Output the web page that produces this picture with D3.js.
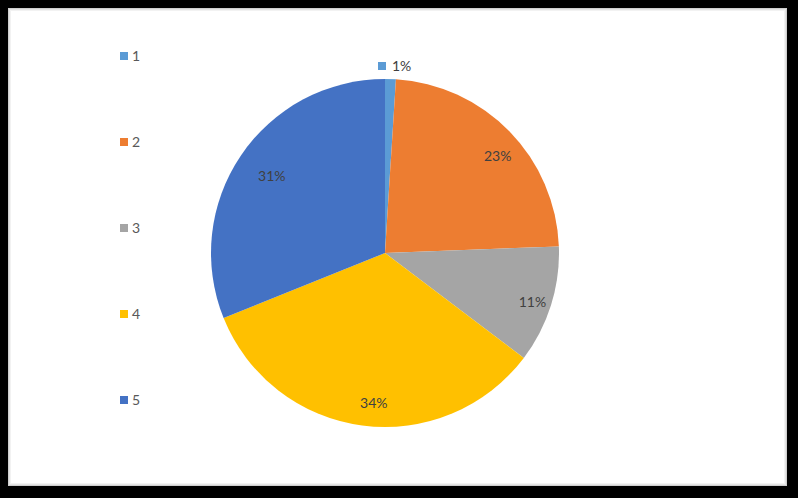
<!DOCTYPE html>
<html>
<head>
<meta charset="utf-8">
<script src="https://cdn.jsdelivr.net/npm/d3@7"></script>
<style>
  html, body { margin: 0; padding: 0; background: #000; }
  svg { display: block; }
</style>
</head>
<body>
<svg id="chart" width="798" height="498"></svg>
<script>
// data
const categories = ["1", "2", "3", "4", "5"];
const values = [1.0, 23.4, 10.9, 33.6, 31.1];
const colors = ["#5B9BD5", "#ED7D31", "#A5A5A5", "#FFC000", "#4472C4"];

const svg = d3.select("#chart"),
    width = 798,
    height = 498,
    font = "Lato, 'Open Sans', sans-serif";

// frame: black border, white plot card with a soft inner edge
svg.append("rect").attr("width", width).attr("height", height).attr("fill", "#000");
const card = {x: 8, y: 8, w: 779, h: 478};
svg.append("rect")
    .attr("x", card.x).attr("y", card.y)
    .attr("width", card.w).attr("height", card.h)
    .attr("fill", "#fff");
[["#cfcfcf", 1], ["#e4e4e4", 3], ["#f2f2f2", 5]].forEach(function(s) {
    svg.append("rect")
        .attr("x", card.x + s[1] / 2).attr("y", card.y + s[1] / 2)
        .attr("width", card.w - s[1]).attr("height", card.h - s[1])
        .attr("fill", "none")
        .attr("stroke", s[0])
        .attr("stroke-width", 1);
});

const cx = 385, cy = 253, radius = 174;
const total = d3.sum(values);

const pie = d3.pie().sort(null).value(function(d) { return d; });
const arcs = pie(values);
const arc = d3.arc().innerRadius(0).outerRadius(radius);
const labelArc = d3.arc().innerRadius(radius * 0.84).outerRadius(radius * 0.84);

const g = svg.append("g").attr("transform", "translate(" + cx + "," + cy + ")");

g.selectAll("path")
    .data(arcs)
    .enter()
    .append("path")
    .attr("d", arc)
    .attr("fill", function(d, i) { return colors[i]; });

function pct(d) { return Math.round(d.data / total * 100) + "%"; }

// inside labels (all slices but the thin first one)
g.selectAll("text.lbl")
    .data(arcs.filter(function(d, i) { return i > 0; }))
    .enter()
    .append("text")
    .attr("class", "lbl")
    .attr("transform", function(d) {
        const c = labelArc.centroid(d);
        return "translate(" + (c[0] + 8) + "," + (c[1] + 5) + ")";
    })
    .attr("text-anchor", "middle")
    .attr("dy", "0.35em")
    .attr("font-family", font)
    .attr("font-size", 14)
    .attr("fill", "#404040")
    .text(pct);

// the thin slice gets its label outside, with a key
const first = arcs[0];
const outArc = d3.arc().innerRadius(radius + 13).outerRadius(radius + 13);
const op = outArc.centroid({startAngle: 0, endAngle: 0});
const outer = g.append("g").attr("transform", "translate(" + (op[0] + 12) + "," + op[1] + ")");
outer.append("rect")
    .attr("x", -19).attr("y", -4)
    .attr("width", 8).attr("height", 8)
    .attr("fill", colors[0]);
outer.append("text")
    .attr("x", -5)
    .attr("dy", "0.35em")
    .attr("font-family", font)
    .attr("font-size", 14)
    .attr("fill", "#404040")
    .text(pct(first));

// legend on the left
const ly = d3.scalePoint().domain(categories).range([56, 400]);
const legend = svg.append("g")
    .selectAll("g")
    .data(categories)
    .enter()
    .append("g")
    .attr("transform", function(d) { return "translate(120," + ly(d) + ")"; });
legend.append("rect")
    .attr("x", 0).attr("y", -4)
    .attr("width", 8).attr("height", 8)
    .attr("fill", function(d, i) { return colors[i]; });
legend.append("text")
    .attr("x", 12)
    .attr("dy", "0.35em")
    .attr("font-family", font)
    .attr("font-size", 14)
    .attr("fill", "#595959")
    .text(function(d) { return d; });
</script>
</body>
</html>
